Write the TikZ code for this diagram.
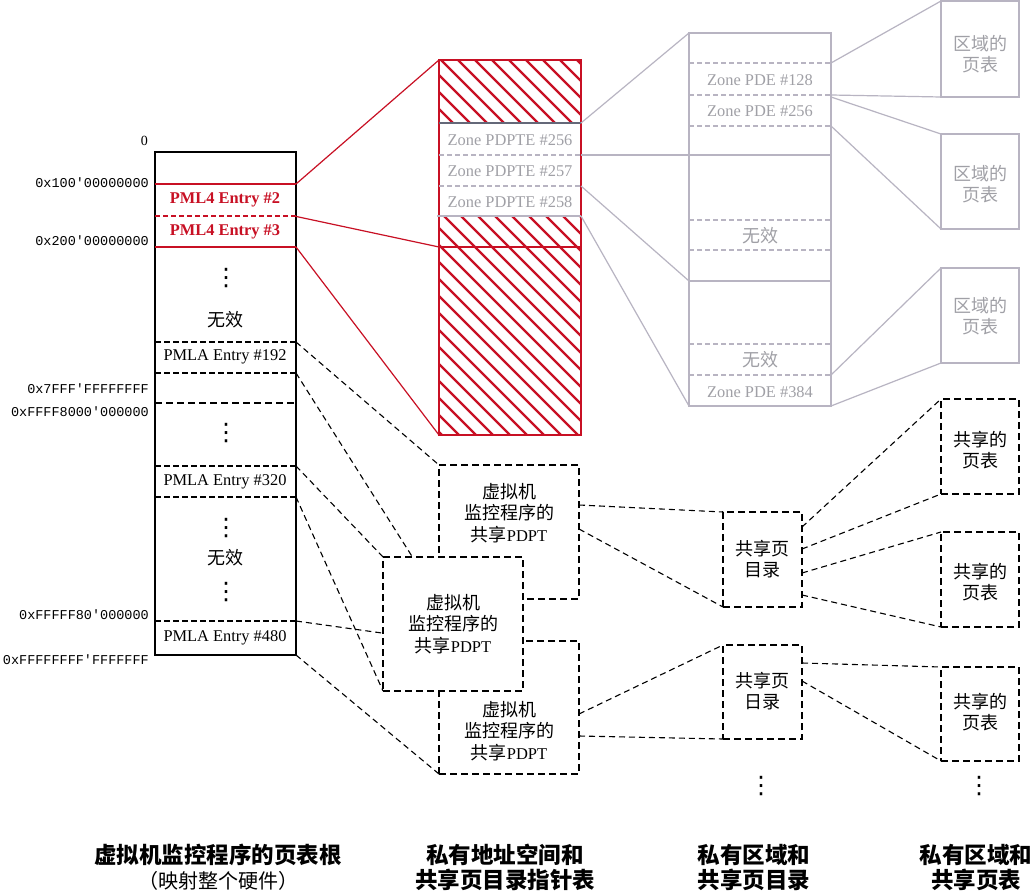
\documentclass[tikz,border=0pt]{standalone}
\usepackage{fontspec}
\setmainfont{Liberation Serif}
\newfontfamily\cjk{Noto Sans CJK SC}
\newfontfamily\monof{Liberation Mono}
\newfontfamily\dejavu{DejaVu Sans}
\definecolor{myred}{RGB}{200,16,36}
\definecolor{mygray}{RGB}{184,180,194}
\definecolor{gtext}{RGB}{160,160,166}
\definecolor{dgray}{RGB}{100,104,120}
\newcommand\pdptx{{\rmfamily\fontsize{16.5}{21.5}\selectfont PDPT}}
\tikzset{
  lat/.style={font=\fontsize{16.4}{20}\selectfont, inner sep=0pt},
  latb/.style={font=\bfseries\fontsize{16.4}{20}\selectfont, inner sep=0pt, text=myred},
  zh/.style={font=\cjk\fontsize{18}{21.5}\selectfont, align=center, inner sep=0pt},
  addr/.style={font=\monof\fontsize{13.5}{15}\selectfont, anchor=east, inner sep=0pt},
  rootbox/.style={draw, line width=2.6pt, inner sep=0pt, outer sep=0pt, anchor=north west},
  redbox/.style={draw=myred, line width=2.6pt, inner sep=0pt, outer sep=0pt, anchor=north west},
  graybox/.style={draw=mygray, line width=2.4pt, inner sep=0pt, outer sep=0pt, anchor=north west},
  dashbox/.style={draw, fill=white, line width=2.6pt, dash pattern=on 7pt off 4pt, inner sep=0pt, outer sep=0pt, anchor=north west},
  conn/.style={line width=1.1pt, dash pattern=on 6pt off 4pt},
  redconn/.style={draw=myred, line width=1.2pt},
  grayconn/.style={draw=mygray, line width=1.2pt},
  thindash/.style={line width=1.1pt, dash pattern=on 6pt off 3pt},
  graydash/.style={draw=mygray, line width=1.1pt, dash pattern=on 5pt off 3pt},
  bottomlbl/.style={font=\cjk\fontsize{22.5}{25}\selectfont, align=center, inner sep=0pt},
  dotsn/.style={font=\dejavu\fontsize{24}{24}\selectfont, inner sep=0pt}
}
\begin{document}
\begin{tikzpicture}[x=1pt,y=-1pt]
\useasboundingbox (0,0) rectangle (1033,896);
\fill[white] (0,0) rectangle (1033,896);

% ---------- red hatched box ----------
\begin{scope}
  \clip (439,60) rectangle (581,123) (439,216) rectangle (581,435);
  \foreach \t in {40,57,...,600} \draw[myred, line width=2.2pt] (\t,50) -- ++(420,420);
\end{scope}
\node[redbox, minimum width=142pt, minimum height=375pt] (R) at (439,60) {};
\draw[dgray, line width=2.2pt] (439,123) -- (581,123);
\draw[graydash] (439,155) -- (581,155);
\draw[graydash] (439,186) -- (581,186);
\draw[mygray, line width=2.4pt] (437,216) -- (581,216);
\draw[myred, line width=2.6pt] (439,247) -- (581,247);
\node[lat, text=gtext] (zp256) at (510,140) {Zone PDPTE \#256};
\node[lat, text=gtext] (zp257) at (510,171) {Zone PDPTE \#257};
\node[lat, text=gtext] (zp258) at (510,202) {Zone PDPTE \#258};

% ---------- left root box ----------
\node[rootbox, minimum width=141pt, minimum height=503pt] (L) at (155,152) {};
\draw[myred, line width=2.4pt] (155,184) -- (296,184);
\draw[myred, line width=1.3pt, dash pattern=on 5pt off 3pt] (155,216) -- (296,216);
\draw[myred, line width=2.4pt] (155,247) -- (296,247);
\draw[thindash] (155,342) -- (296,342);
\draw[thindash] (155,373) -- (296,373);
\draw[line width=2.4pt, dash pattern=on 7pt off 4pt] (155,403) -- (296,403);
\draw[thindash] (155,466) -- (296,466);
\draw[thindash] (155,497) -- (296,497);
\draw[thindash] (155,621) -- (296,621);
\node[latb] (e2) at (225,200) {PML4 Entry \#2};
\node[latb] (e3) at (225,232) {PML4 Entry \#3};
\node[dotsn] (d1) at (226,278) {⋮};
\node[zh] (w1) at (225,320) {无效};
\node[lat] (e192) at (225,357) {PMLA Entry \#192};
\node[dotsn] (d2) at (226,433) {⋮};
\node[lat] (e320) at (225,482) {PMLA Entry \#320};
\node[dotsn] (d3) at (226,528) {⋮};
\node[zh] (w2) at (225,558) {无效};
\node[dotsn] (d4) at (226,592) {⋮};
\node[lat] (e480) at (225,638) {PMLA Entry \#480};

% address labels
\node[lat, anchor=east, font=\fontsize{14}{16}\selectfont] (a0) at (148,141) {0};
\node[addr] (a1) at (149,183) {0x100\textquotesingle 00000000};
\node[addr] (a2) at (149,241) {0x200\textquotesingle 00000000};
\node[addr] (a3) at (149,389) {0x7FFF\textquotesingle FFFFFFFF};
\node[addr] (a4) at (149,412) {0xFFFF8000\textquotesingle 000000};
\node[addr] (a5) at (149,615) {0xFFFFF80\textquotesingle 000000};
\node[addr] (a6) at (149,660) {0xFFFFFFFF\textquotesingle FFFFFFF};

% coordinates on root box
\coordinate (l184) at (296,184);
\coordinate (l216) at (294,216);
\coordinate (l247) at (296,247);
\coordinate (l342) at (296,342);
\coordinate (l373) at (296,373);
\coordinate (l466) at (296,466);
\coordinate (l497) at (296,497);
\coordinate (l621) at (296,621);
\coordinate (r247) at (439,247);

% red connectors
\draw[redconn] (l184) -- (R.north west);
\draw[redconn] (l216) -- (r247);
\draw[redconn] (l247) -- (R.south west);

% ---------- gray zone PD box ----------
\node[graybox, minimum width=142pt, minimum height=373pt] (G) at (689,33) {};
\draw[mygray, line width=2.2pt] (689,155) -- (831,155);
\draw[mygray, line width=2.2pt] (689,281) -- (831,281);
\foreach \yy in {63,95,126,220,250,344,375} \draw[graydash] (689,\yy) -- (831,\yy);
\node[lat, text=gtext] (zd128) at (760,80) {Zone PDE \#128};
\node[lat, text=gtext] (zd256) at (760,111) {Zone PDE \#256};
\node[zh, text=gtext] (gw1) at (760,236) {无效};
\node[zh, text=gtext] (gw2) at (760,360) {无效};
\node[lat, text=gtext] (zd384) at (760,392) {Zone PDE \#384};

% zone page tables
\node[graybox, minimum width=78pt, minimum height=96pt] (Z1) at (941,1) {};
\node[graybox, minimum width=78pt, minimum height=95pt] (Z2) at (941,134) {};
\node[graybox, minimum width=78pt, minimum height=95pt] (Z3) at (941,268) {};
\node[zh, text=gtext] (z1t) at (980,54) {区域的\\页表};
\node[zh, text=gtext] (z2t) at (980,184) {区域的\\页表};
\node[zh, text=gtext] (z3t) at (980,316) {区域的\\页表};

\coordinate (r123) at (581,123);
\coordinate (r155) at (581,155);
\coordinate (r186) at (581,186);
\coordinate (r216) at (581,216);
\coordinate (g155) at (689,155);
\coordinate (g281) at (689,281);
\coordinate (g63) at (831,63);
\coordinate (g95) at (831,95);
\coordinate (g97) at (831,97);
\coordinate (g126) at (831,126);
\coordinate (g375) at (831,375);

\draw[grayconn] (r123) -- (G.north west);
\draw[grayconn] (r155) -- (g155);
\draw[grayconn] (r186) -- (g281);
\draw[grayconn] (r216) -- (G.south west);
\draw[grayconn] (g63) -- (Z1.north west);
\draw[grayconn] (g95) -- (Z1.south west);
\draw[grayconn] (g97) -- (Z2.north west);
\draw[grayconn] (g126) -- (Z2.south west);
\draw[grayconn] (g375) -- (Z3.north west);
\draw[grayconn] (G.south east) -- (Z3.south west);

% ---------- shared PDPT boxes ----------
\coordinate (Anw) at (439,465);
\coordinate (Asw) at (439,599);
\coordinate (Bnw) at (383,557);
\coordinate (Bsw) at (383,691);
\coordinate (Cnw) at (439,641);
\coordinate (Csw) at (439,774);
\draw[conn] (l342) -- (Anw);
\draw[conn] (l373) -- (Asw);
\draw[conn] (l466) -- (Bnw);
\draw[conn] (l497) -- (Bsw);
\draw[conn] (l621) -- (Cnw);
\draw[conn] (L.south east) -- (Csw);

% page directories and page tables
\node[dashbox, minimum width=79pt, minimum height=95pt] (P1) at (723,512) {};
\node[dashbox, minimum width=79pt, minimum height=94pt] (P2) at (723,645) {};
\node[dashbox, minimum width=78pt, minimum height=95pt] (T1) at (941,399) {};
\node[dashbox, minimum width=78pt, minimum height=95pt] (T2) at (941,532) {};
\node[dashbox, minimum width=78pt, minimum height=94pt] (T3) at (941,667) {};

\coordinate (a505) at (579,505);
\coordinate (a529) at (579,529);
\coordinate (c714) at (579,714);
\coordinate (c736) at (579,736);
\coordinate (p527) at (802,527);
\coordinate (p549) at (802,549);
\coordinate (p573) at (802,573);
\coordinate (p595) at (802,595);
\coordinate (q663) at (802,663);
\coordinate (q681) at (802,681);

\draw[conn] (a505) -- (P1.north west);
\draw[conn] (a529) -- (P1.south west);
\draw[conn] (c714) -- (P2.north west);
\draw[conn] (c736) -- (P2.south west);
\draw[conn] (p527) -- (T1.north west);
\draw[conn] (p549) -- (T1.south west);
\draw[conn] (p573) -- (T2.north west);
\draw[conn] (p595) -- (T2.south west);
\draw[conn] (q663) -- (T3.north west);
\draw[conn] (q681) -- (T3.south west);

\node[dashbox, minimum width=140pt, minimum height=134pt] (A) at (Anw) {};
\node[dashbox, minimum width=140pt, minimum height=133pt] (C) at (Cnw) {};
\node[dashbox, minimum width=140pt, minimum height=134pt] (B) at (Bnw) {};

\node[zh] (At) at (509,513) {虚拟机\\监控程序的\\共享\pdptx};
\node[zh] (Bt) at (453,624) {虚拟机\\监控程序的\\共享\pdptx};
\node[zh] (Ct) at (509,731) {虚拟机\\监控程序的\\共享\pdptx};

\node[zh] (P1t) at (762,559) {共享页\\目录};
\node[zh] (P2t) at (762,691) {共享页\\日录};
\node[zh] (T1t) at (980,450) {共享的\\页表};
\node[zh] (T2t) at (980,582) {共享的\\页表};
\node[zh] (T3t) at (980,712) {共享的\\页表};

\node[dotsn] (d5) at (761,786) {⋮};
\node[dotsn] (d6) at (979,786) {⋮};

% ---------- bottom captions ----------
\node[bottomlbl] (c1) at (218,867) {{\bfseries 虚拟机监控程序的页表根}\\{\fontsize{20}{25}\selectfont （映射整个硬件）}};
\node[bottomlbl, font=\cjk\bfseries\fontsize{22.5}{25}\selectfont] (c2) at (505,867) {私有地址空间和\\共享页目录指针表};
\node[bottomlbl, font=\cjk\bfseries\fontsize{22.5}{25}\selectfont] (c3) at (754,867) {私有区域和\\共享页目录};
\node[bottomlbl, font=\cjk\bfseries\fontsize{22.5}{25}\selectfont] (c4) at (976,867) {私有区域和\\共享页表};
\end{tikzpicture}
\end{document}
